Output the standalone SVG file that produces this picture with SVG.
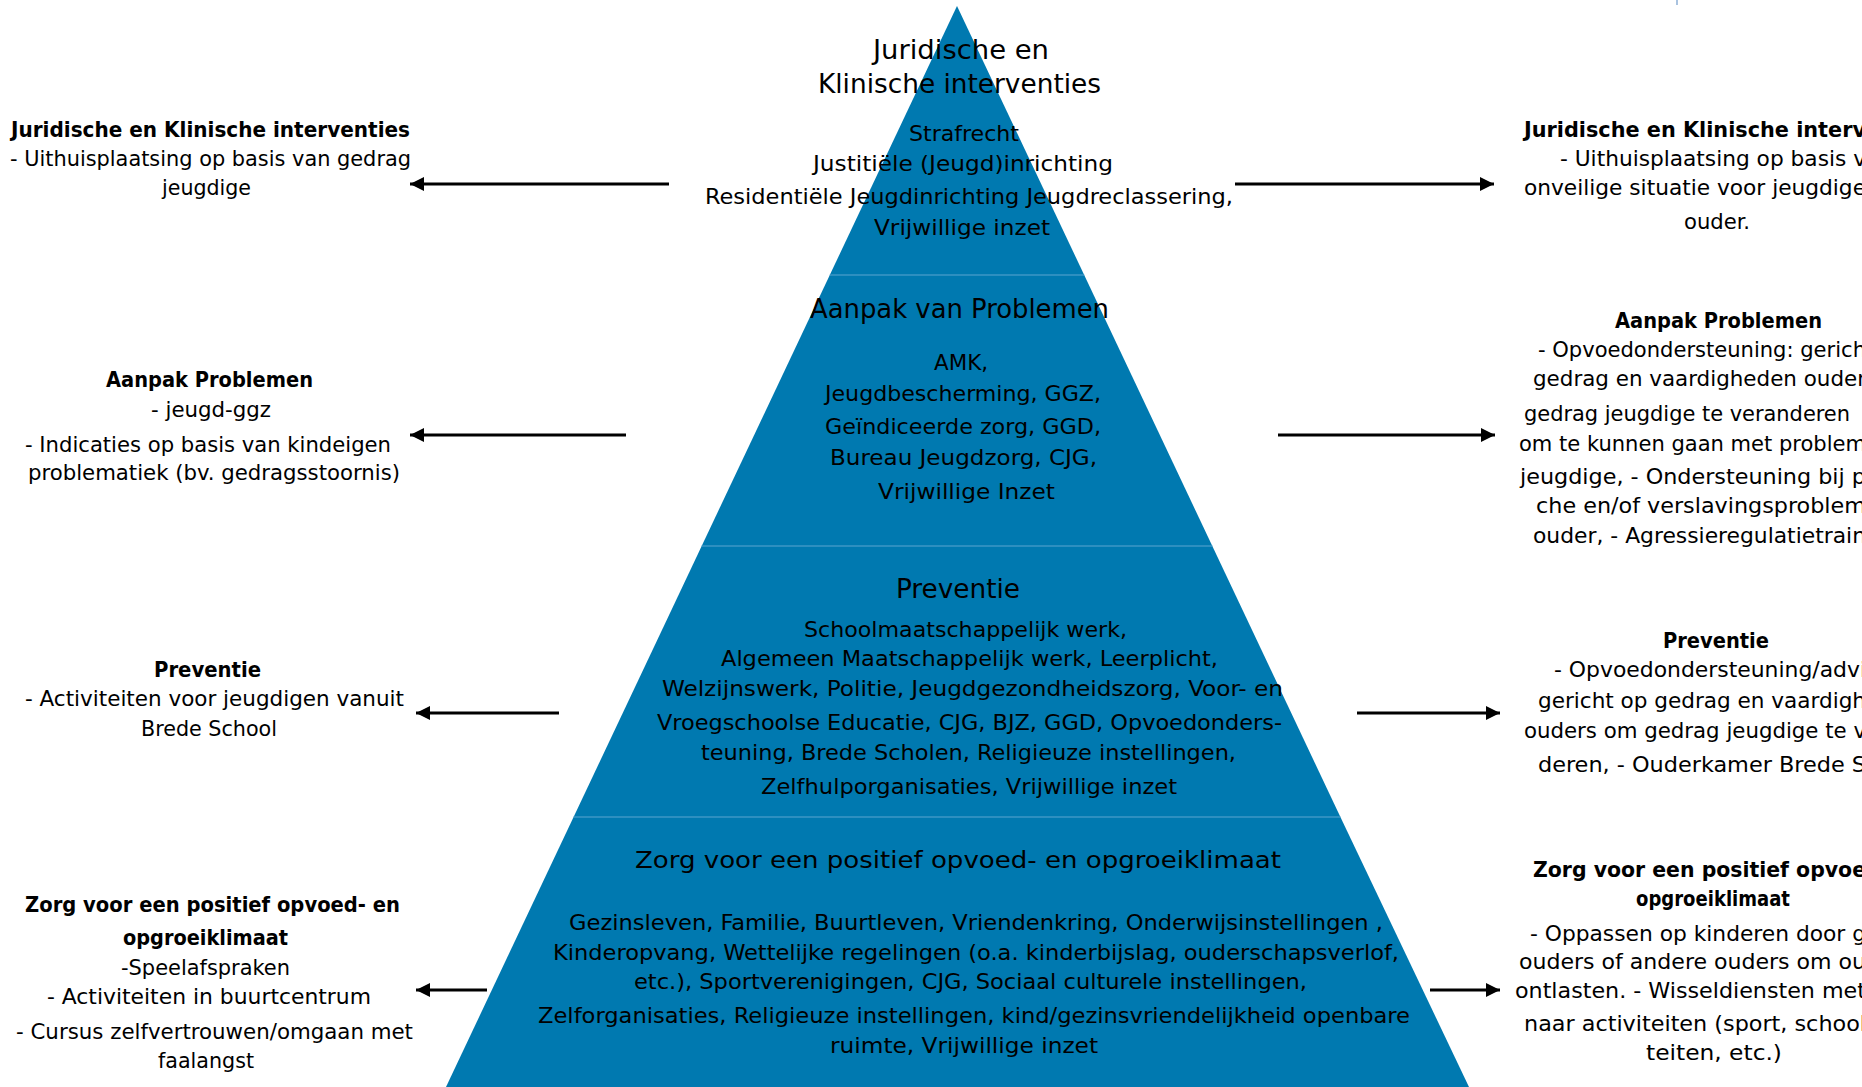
<svg xmlns="http://www.w3.org/2000/svg" width="1862" height="1087" viewBox="0 0 1862 1087">
<style>
.t{font-family:"DejaVu Sans Condensed","Liberation Sans Narrow","DejaVu Sans",sans-serif;fill:#000;}
.c{text-anchor:middle;}
.b{font-weight:bold;}
.s19{font-size:20.5px;}
.s20{font-size:21.5px;}
.s22{font-size:23.5px;}
.s24{font-size:26px;}
.band{fill:#0079B0;}
.div{stroke:#3C97C6;stroke-width:1.5;}
.arr{stroke:#000;stroke-width:3;fill:none;marker-end:url(#ah);}
</style>
<defs>
<marker id="ah" markerUnits="userSpaceOnUse" markerWidth="16" markerHeight="14" refX="14" refY="7" orient="auto">
<path d="M0,0 L14,7 L0,14 Z" fill="#000"/>
</marker>
</defs>
<rect x="0" y="0" width="1862" height="1087" fill="#fff"/>
<line x1="1677" y1="0" x2="1677" y2="5" stroke="#A9C3E0" stroke-width="2"/>

<g id="band-juridisch">
<polygon class="band" points="957,6 1084.2,275 829.8,275"/>
<text class="t c s24" x="961" y="59" textLength="176" lengthAdjust="spacingAndGlyphs">Juridische en</text>
<text class="t c s24" x="959.5" y="93" textLength="283" lengthAdjust="spacingAndGlyphs">Klinische interventies</text>
<text class="t c s20" x="964" y="141" textLength="110" lengthAdjust="spacingAndGlyphs">Strafrecht</text>
<text class="t c s20" x="963" y="171" textLength="300" lengthAdjust="spacingAndGlyphs">Justitiële (Jeugd)inrichting</text>
<text class="t c s20" x="969" y="204" textLength="528" lengthAdjust="spacingAndGlyphs">Residentiële Jeugdinrichting Jeugdreclassering,</text>
<text class="t c s20" x="962" y="235" textLength="176" lengthAdjust="spacingAndGlyphs">Vrijwillige inzet</text>
</g>

<g id="band-aanpak">
<polygon class="band" points="829.8,275 1084.2,275 1212.3,546 701.7,546"/>
<line class="div" x1="829.8" y1="275" x2="1084.2" y2="275"/>
<text class="t c s24" x="959.5" y="318" textLength="299" lengthAdjust="spacingAndGlyphs">Aanpak van Problemen</text>
<text class="t c s20" x="961" y="370" textLength="54" lengthAdjust="spacingAndGlyphs">AMK,</text>
<text class="t c s20" x="963" y="401" textLength="276" lengthAdjust="spacingAndGlyphs">Jeugdbescherming, GGZ,</text>
<text class="t c s20" x="963" y="434" textLength="276" lengthAdjust="spacingAndGlyphs">Geïndiceerde zorg, GGD,</text>
<text class="t c s20" x="963.5" y="465" textLength="267" lengthAdjust="spacingAndGlyphs">Bureau Jeugdzorg, CJG,</text>
<text class="t c s20" x="966.5" y="499" textLength="177" lengthAdjust="spacingAndGlyphs">Vrijwillige Inzet</text>
</g>

<g id="band-preventie">
<polygon class="band" points="701.7,546 1212.3,546 1340.4,817 573.6,817"/>
<line class="div" x1="701.7" y1="546" x2="1212.3" y2="546"/>
<text class="t c s24" x="958" y="598" textLength="124" lengthAdjust="spacingAndGlyphs">Preventie</text>
<text class="t c s20" x="965.5" y="637" textLength="323" lengthAdjust="spacingAndGlyphs">Schoolmaatschappelijk werk,</text>
<text class="t c s20" x="969.5" y="666" textLength="497" lengthAdjust="spacingAndGlyphs">Algemeen Maatschappelijk werk, Leerplicht,</text>
<text class="t c s20" x="972.5" y="696" textLength="621" lengthAdjust="spacingAndGlyphs">Welzijnswerk, Politie,  Jeugdgezondheidszorg, Voor- en</text>
<text class="t c s20" x="969.5" y="730" textLength="625" lengthAdjust="spacingAndGlyphs">Vroegschoolse Educatie,  CJG, BJZ, GGD, Opvoedonders-</text>
<text class="t c s20" x="968.5" y="760" textLength="535" lengthAdjust="spacingAndGlyphs">teuning, Brede Scholen, Religieuze instellingen,</text>
<text class="t c s20" x="969" y="794" textLength="416" lengthAdjust="spacingAndGlyphs">Zelfhulporganisaties, Vrijwillige inzet</text>
</g>

<g id="band-zorg">
<polygon class="band" points="573.6,817 1340.4,817 1469,1087 446,1087"/>
<line class="div" x1="573.6" y1="817" x2="1340.4" y2="817"/>
<text class="t c s22" x="958" y="868" textLength="646" lengthAdjust="spacingAndGlyphs">Zorg voor een positief opvoed- en opgroeiklimaat</text>
<text class="t c s19" x="976" y="930" textLength="814" lengthAdjust="spacingAndGlyphs">Gezinsleven, Familie, Buurtleven, Vriendenkring, Onderwijsinstellingen ,</text>
<text class="t c s19" x="976" y="960" textLength="846" lengthAdjust="spacingAndGlyphs">Kinderopvang, Wettelijke regelingen (o.a. kinderbijslag, ouderschapsverlof,</text>
<text class="t c s19" x="970.5" y="989" textLength="673" lengthAdjust="spacingAndGlyphs">etc.), Sportverenigingen, CJG, Sociaal culturele instellingen,</text>
<text class="t c s19" x="974" y="1023" textLength="872" lengthAdjust="spacingAndGlyphs">Zelforganisaties, Religieuze instellingen, kind/gezinsvriendelijkheid openbare</text>
<text class="t c s19" x="964" y="1053" textLength="268" lengthAdjust="spacingAndGlyphs">ruimte, Vrijwillige inzet</text>
</g>

<g id="left-juridisch">
<text class="t c b s19" x="210.5" y="137" textLength="399" lengthAdjust="spacingAndGlyphs">Juridische en Klinische interventies</text>
<text class="t c s19" x="210.5" y="166" textLength="401" lengthAdjust="spacingAndGlyphs">- Uithuisplaatsing op basis van gedrag</text>
<text class="t c s19" x="206.5" y="195" textLength="89" lengthAdjust="spacingAndGlyphs">jeugdige</text>
</g>

<g id="left-aanpak">
<text class="t c b s19" x="209.5" y="387" textLength="207" lengthAdjust="spacingAndGlyphs">Aanpak Problemen</text>
<text class="t c s19" x="211" y="417" textLength="120" lengthAdjust="spacingAndGlyphs">- jeugd-ggz</text>
<text class="t c s19" x="208" y="452" textLength="366" lengthAdjust="spacingAndGlyphs">- Indicaties op basis van kindeigen</text>
<text class="t c s19" x="214" y="480" textLength="372" lengthAdjust="spacingAndGlyphs">problematiek (bv. gedragsstoornis)</text>
</g>

<g id="left-preventie">
<text class="t c b s19" x="207.5" y="677" textLength="107" lengthAdjust="spacingAndGlyphs">Preventie</text>
<text class="t c s19" x="214.5" y="706" textLength="379" lengthAdjust="spacingAndGlyphs">- Activiteiten voor jeugdigen vanuit</text>
<text class="t c s19" x="209" y="736" textLength="136" lengthAdjust="spacingAndGlyphs">Brede School</text>
</g>

<g id="left-zorg">
<text class="t c b s19" x="212.5" y="912" textLength="375" lengthAdjust="spacingAndGlyphs">Zorg voor een positief opvoed- en</text>
<text class="t c b s19" x="205.5" y="945" textLength="165" lengthAdjust="spacingAndGlyphs">opgroeiklimaat</text>
<text class="t c s19" x="205.5" y="975" textLength="169" lengthAdjust="spacingAndGlyphs">-Speelafspraken</text>
<text class="t c s19" x="209" y="1004" textLength="324" lengthAdjust="spacingAndGlyphs">- Activiteiten in buurtcentrum</text>
<text class="t c s19" x="214.5" y="1039" textLength="397" lengthAdjust="spacingAndGlyphs">- Cursus zelfvertrouwen/omgaan met</text>
<text class="t c s19" x="206" y="1068" textLength="96" lengthAdjust="spacingAndGlyphs">faalangst</text>
</g>

<g id="right-juridisch">
<text class="t b s19" x="1524" y="137" textLength="342" lengthAdjust="spacingAndGlyphs">Juridische en Klinische interv</text>
<text class="t s19" x="1560" y="166" textLength="306" lengthAdjust="spacingAndGlyphs">- Uithuisplaatsing op basis v</text>
<text class="t s19" x="1524" y="195" textLength="342" lengthAdjust="spacingAndGlyphs">onveilige situatie voor jeugdige</text>
<text class="t c s19" x="1717" y="229" textLength="66" lengthAdjust="spacingAndGlyphs">ouder.</text>
</g>

<g id="right-aanpak">
<text class="t c b s19" x="1718.5" y="328" textLength="207" lengthAdjust="spacingAndGlyphs">Aanpak Problemen</text>
<text class="t s19" x="1538" y="357" textLength="328" lengthAdjust="spacingAndGlyphs">- Opvoedondersteuning: gerich</text>
<text class="t s19" x="1533" y="386" textLength="333" lengthAdjust="spacingAndGlyphs">gedrag en vaardigheden ouder</text>
<text class="t s19" x="1524" y="421" textLength="326" lengthAdjust="spacingAndGlyphs">gedrag jeugdige te veranderen</text>
<text class="t s19" x="1519" y="451" textLength="347" lengthAdjust="spacingAndGlyphs">om te kunnen gaan met problem</text>
<text class="t s19" x="1520" y="484" textLength="346" lengthAdjust="spacingAndGlyphs">jeugdige, - Ondersteuning bij p</text>
<text class="t s19" x="1536" y="513" textLength="330" lengthAdjust="spacingAndGlyphs">che en/of verslavingsproblem</text>
<text class="t s19" x="1533" y="543" textLength="333" lengthAdjust="spacingAndGlyphs">ouder, - Agressieregulatietrain</text>
</g>

<g id="right-preventie">
<text class="t c b s19" x="1716" y="648" textLength="106" lengthAdjust="spacingAndGlyphs">Preventie</text>
<text class="t s19" x="1554" y="677" textLength="312" lengthAdjust="spacingAndGlyphs">- Opvoedondersteuning/advi</text>
<text class="t s19" x="1538" y="708" textLength="328" lengthAdjust="spacingAndGlyphs">gericht op gedrag en vaardigh</text>
<text class="t s19" x="1524" y="738" textLength="342" lengthAdjust="spacingAndGlyphs">ouders om gedrag jeugdige te v</text>
<text class="t s19" x="1538" y="772" textLength="328" lengthAdjust="spacingAndGlyphs">deren, - Ouderkamer Brede S</text>
</g>

<g id="right-zorg">
<text class="t b s19" x="1533" y="877" textLength="333" lengthAdjust="spacingAndGlyphs">Zorg voor een positief opvoe</text>
<text class="t c b s19" x="1713" y="906" textLength="154" lengthAdjust="spacingAndGlyphs">opgroeiklimaat</text>
<text class="t s19" x="1530" y="941" textLength="336" lengthAdjust="spacingAndGlyphs">- Oppassen op kinderen door g</text>
<text class="t s19" x="1519" y="969" textLength="347" lengthAdjust="spacingAndGlyphs">ouders of andere ouders om ou</text>
<text class="t s19" x="1515" y="998" textLength="351" lengthAdjust="spacingAndGlyphs">ontlasten. - Wisseldiensten met</text>
<text class="t s19" x="1524" y="1031" textLength="342" lengthAdjust="spacingAndGlyphs">naar activiteiten (sport, school</text>
<text class="t c s19" x="1714" y="1060" textLength="136" lengthAdjust="spacingAndGlyphs">teiten, etc.)</text>
</g>

<g id="connectors">
<line class="arr" x1="669" y1="184" x2="410" y2="184"/>
<line class="arr" x1="626" y1="435" x2="410" y2="435"/>
<line class="arr" x1="559" y1="713" x2="416" y2="713"/>
<line class="arr" x1="487" y1="990" x2="416" y2="990"/>
<line class="arr" x1="1235" y1="184" x2="1494" y2="184"/>
<line class="arr" x1="1278" y1="435" x2="1495" y2="435"/>
<line class="arr" x1="1357" y1="713" x2="1500" y2="713"/>
<line class="arr" x1="1430" y1="990" x2="1500" y2="990"/>
</g>
</svg>
